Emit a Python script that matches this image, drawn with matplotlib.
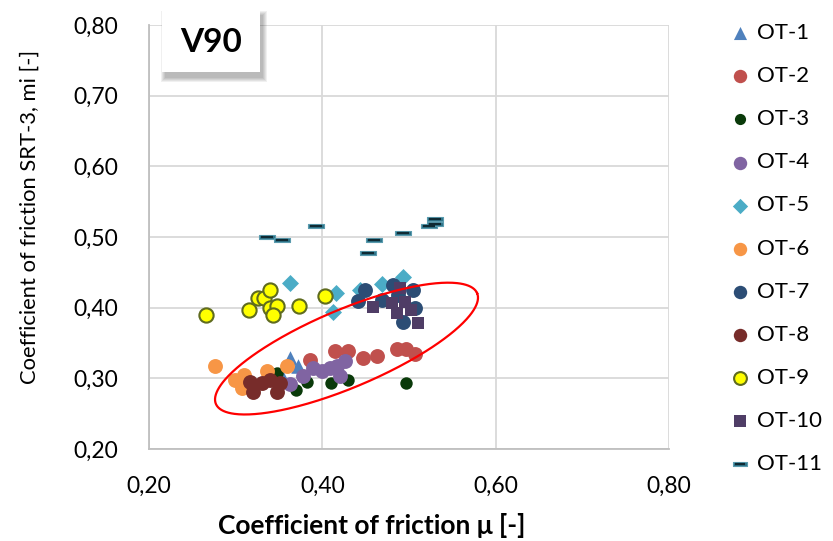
import numpy as np
import matplotlib
matplotlib.use("Agg")
import matplotlib.pyplot as plt
from matplotlib.ticker import FixedLocator, FuncFormatter
from matplotlib.patches import Rectangle
from matplotlib.legend_handler import HandlerTuple

plt.rcParams["font.family"] = ["Lato", "DejaVu Sans"]

# --- data: friction coefficient mu (x) vs SRT-3 value (y) per test track ---
ot1_x = [0.363, 0.372, 0.355]
ot1_y = [0.329, 0.317, 0.301]

ot2_x = [0.386, 0.415, 0.430, 0.447, 0.463, 0.486, 0.497, 0.507]
ot2_y = [0.326, 0.338, 0.339, 0.329, 0.331, 0.342, 0.341, 0.334]

ot3_x = [0.348, 0.370, 0.382, 0.410, 0.430, 0.497]
ot3_y = [0.307, 0.284, 0.295, 0.294, 0.298, 0.294]

ot4_x = [0.363, 0.378, 0.389, 0.400, 0.409, 0.417, 0.426, 0.420]
ot4_y = [0.292, 0.304, 0.315, 0.310, 0.315, 0.318, 0.324, 0.304]

ot5_x = [0.363, 0.416, 0.412, 0.443, 0.469, 0.493]
ot5_y = [0.435, 0.421, 0.394, 0.425, 0.433, 0.444]

ot6_x = [0.276, 0.299, 0.310, 0.307, 0.336, 0.359]
ot6_y = [0.317, 0.298, 0.305, 0.287, 0.310, 0.318]

ot7_x = [0.441, 0.449, 0.469, 0.482, 0.487, 0.505, 0.507, 0.493]
ot7_y = [0.410, 0.425, 0.411, 0.432, 0.418, 0.425, 0.400, 0.380]

ot8_x = [0.317, 0.320, 0.330, 0.340, 0.351, 0.348]
ot8_y = [0.295, 0.281, 0.294, 0.298, 0.293, 0.281]

ot9_x = [0.266, 0.315, 0.326, 0.333, 0.340, 0.340, 0.348, 0.343, 0.373, 0.403]
ot9_y = [0.390, 0.396, 0.413, 0.414, 0.425, 0.400, 0.403, 0.390, 0.403, 0.416]

ot10_x = [0.458, 0.480, 0.490, 0.495, 0.486, 0.502, 0.510]
ot10_y = [0.401, 0.407, 0.428, 0.408, 0.393, 0.396, 0.379]

ot11_x = [0.336, 0.353, 0.393, 0.453, 0.460, 0.493, 0.523, 0.530, 0.530]
ot11_y = [0.500, 0.496, 0.516, 0.478, 0.496, 0.505, 0.515, 0.519, 0.526]

x_ticks = [0.20, 0.40, 0.60, 0.80]
y_ticks = [0.20, 0.30, 0.40, 0.50, 0.60, 0.70, 0.80]
labels = ["OT-1", "OT-2", "OT-3", "OT-4", "OT-5", "OT-6", "OT-7", "OT-8", "OT-9", "OT-10", "OT-11"]

W, H = 833, 541
fig = plt.figure(figsize=(W / 100, H / 100), dpi=100)
ax = fig.add_axes([149 / W, 1 - 449 / H, 520 / W, 424 / H])

ax.set_xlim(0.20, 0.80)
ax.set_ylim(0.20, 0.80)
ax.xaxis.set_major_locator(FixedLocator(x_ticks))
ax.yaxis.set_major_locator(FixedLocator(y_ticks))
fmt = FuncFormatter(lambda v, p: f"{v:.2f}".replace(".", ","))
ax.xaxis.set_major_formatter(fmt)
ax.yaxis.set_major_formatter(fmt)
ax.tick_params(length=0, labelsize=16.5, colors="#000000")
ax.tick_params(axis="y", pad=22)
ax.tick_params(axis="x", pad=19)
ax.grid(True, color="#D9D9D9", linewidth=1.3, zorder=0)
ax.set_axisbelow(True)
for side in ["top", "right"]:
    ax.spines[side].set_visible(False)
for side in ["left", "bottom"]:
    ax.spines[side].set_color("#BFBFBF")
    ax.spines[side].set_linewidth(1.3)

h1 = ax.scatter(ot1_x, ot1_y, marker="^", s=110, color="#4F81BD", linewidths=0, zorder=3)
h2 = ax.scatter(ot2_x, ot2_y, marker="o", s=115, color="#C0504D", linewidths=0, zorder=3)
h3 = ax.scatter(ot3_x, ot3_y, marker="o", s=80, color="#0A3A0A", linewidths=0, zorder=3)
h4 = ax.scatter(ot4_x, ot4_y, marker="o", s=115, color="#8064A2", linewidths=0, zorder=3)
h5 = ax.scatter(ot5_x, ot5_y, marker="D", s=75, color="#4BACC6", linewidths=0, zorder=3)
h6 = ax.scatter(ot6_x, ot6_y, marker="o", s=115, color="#F79646", linewidths=0, zorder=3)
h7 = ax.scatter(ot7_x, ot7_y, marker="o", s=115, color="#2C4D75", linewidths=0, zorder=3)
h8 = ax.scatter(ot8_x, ot8_y, marker="o", s=115, color="#772C2A", linewidths=0, zorder=3)
h9 = ax.scatter(ot9_x, ot9_y, marker="o", s=105, facecolor="#FFFF00", edgecolor="#5F6B1F",
                linewidths=1.5, zorder=3)
h10 = ax.scatter(ot10_x, ot10_y, marker="s", s=80, color="#4F3D66", linewidths=0, zorder=3)
rect = [(-1, -0.3), (1, -0.3), (1, 0.3), (-1, 0.3), (-1, -0.3)]
h11a = ax.scatter(ot11_x, ot11_y, marker=rect, s=130, facecolor="#2E7388", edgecolor="#5A9BAE",
                  linewidths=0.8, zorder=3)
h11b = ax.scatter(ot11_x, ot11_y, marker="_", s=70, color="#0F2A33", linewidths=1.6, zorder=3)

# highlighted region (rotated ellipse)
t = np.linspace(0, 2 * np.pi, 400)
cx, cy = 0.4279, 0.3421
major = np.array([0.1507, 0.0784])
minor = np.array([0.01753, -0.0505])
ex = cx + major[0] * np.cos(t) + minor[0] * np.sin(t)
ey = cy + major[1] * np.cos(t) + minor[1] * np.sin(t)
ax.plot(ex, ey, color="#FF0000", linewidth=1.6, zorder=4)

fig.text(372 / W, 1 - 525 / H, "Coefficient of friction μ [-]", fontsize=19, fontweight="bold",
         ha="center", va="center")
fig.text(30 / W, 1 - 217 / H, "Coefficient of friction SRT-3, mi [-]", fontsize=15.8,
         rotation=90, ha="center", va="center")

# title box with a soft drop shadow
bx, by, bw, bh = 162, 9, 98, 63
for k in range(5, 0, -1):
    sh = Rectangle(((bx + 4 - k) / W, 1 - (by + bh + 5 + k) / H), (bw + 2 * k - 2) / W,
                   (bh + 2 * k - 2) / H, transform=fig.transFigure, facecolor="#000000",
                   edgecolor="none", alpha=0.06, zorder=9)
    fig.patches.append(sh)
box = Rectangle((bx / W, 1 - (by + bh) / H), bw / W, bh / H, transform=fig.transFigure,
                facecolor="white", edgecolor="none", zorder=10)
fig.patches.append(box)
fig.text((bx + bw / 2) / W, 1 - 42 / H, "V90", fontsize=24, fontweight="bold", ha="center",
         va="center", zorder=11)

leg = fig.legend([h1, h2, h3, h4, h5, h6, h7, h8, h9, h10, (h11a, h11b)], labels,
                 loc="upper left", bbox_to_anchor=(709 / W, 1 - 3 / H), frameon=False,
                 fontsize=16, labelspacing=1.04, handletextpad=0.27, handlelength=1.0,
                 borderpad=0.4, markerscale=0.9,
                 handler_map={tuple: HandlerTuple(ndivide=1, pad=0)})

fig.savefig("out.png", dpi=100)
